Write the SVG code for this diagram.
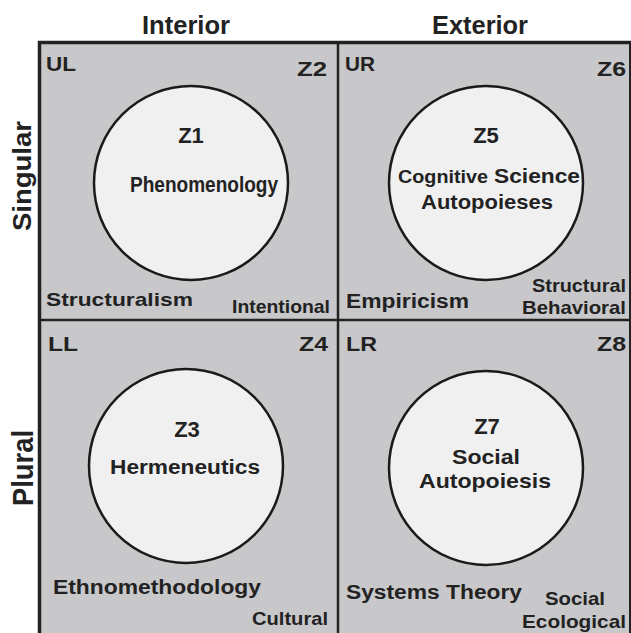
<svg xmlns="http://www.w3.org/2000/svg" width="631" height="633" viewBox="0 0 631 633">
<style>
text{font-family:"Liberation Sans",Arial,sans-serif;font-weight:bold;fill:#222}
.h{font-size:25px}
.c{font-size:21px}
.m{font-size:21px;text-anchor:middle}
.s{font-size:19px}
.circ{fill:#f0f0f1;stroke:#1a1a1a;stroke-width:2.5}
.line{stroke:#222;fill:none}
</style>
<rect width="631" height="633" fill="#ffffff"/>
<g id="headers">
<text class="h" x="186" y="34" text-anchor="middle" textLength="88" lengthAdjust="spacingAndGlyphs">Interior</text>
<text class="h" x="480" y="34" text-anchor="middle" textLength="96" lengthAdjust="spacingAndGlyphs">Exterior</text>
<text class="h" transform="translate(31,176) rotate(-90)" text-anchor="middle" textLength="110" lengthAdjust="spacingAndGlyphs">Singular</text>
<text transform="translate(33,468) rotate(-90)" text-anchor="middle" style="font-size:29px" textLength="76" lengthAdjust="spacingAndGlyphs">Plural</text>
</g>
<g id="quadrants">
<rect x="40" y="44" width="600" height="600" fill="#c8c8ca"/>
</g>
<g id="connectors">
<path class="line" d="M39.5,640 V42.5 H640" stroke-width="3.5"/>
<path class="line" d="M630,44 V633" stroke-width="2"/>
<path class="line" d="M338,44 V633" stroke-width="2.5"/>
<path class="line" d="M40,320 H631" stroke-width="2.5"/>
</g>
<g id="UL">
<text class="c" x="46" y="71" textLength="30" lengthAdjust="spacingAndGlyphs">UL</text>
<text class="c" x="297" y="76" textLength="30" lengthAdjust="spacingAndGlyphs">Z2</text>
<text class="s" x="46" y="306" textLength="147" lengthAdjust="spacingAndGlyphs">Structuralism</text>
<text class="s" x="232" y="313" textLength="98" lengthAdjust="spacingAndGlyphs">Intentional</text>
</g>
<g id="Z1">
<circle class="circ" cx="191" cy="183" r="97"/>
<text class="m" x="191" y="143" style="font-size:22px">Z1</text>
<text class="m" x="204" y="192" style="font-size:22px" textLength="148" lengthAdjust="spacingAndGlyphs">Phenomenology</text>
</g>
<g id="UR">
<text class="c" x="345" y="71" textLength="30" lengthAdjust="spacingAndGlyphs">UR</text>
<text class="c" x="597" y="76" textLength="29" lengthAdjust="spacingAndGlyphs">Z6</text>
<text class="s" x="346" y="308" style="font-size:20px" textLength="123" lengthAdjust="spacingAndGlyphs">Empiricism</text>
<text class="s" x="532" y="292" textLength="94" lengthAdjust="spacingAndGlyphs">Structural</text>
<text class="s" x="522" y="314" textLength="104" lengthAdjust="spacingAndGlyphs">Behavioral</text>
</g>
<g id="Z5">
<circle class="circ" cx="486" cy="183" r="97"/>
<text class="m" x="486" y="143" style="font-size:22px">Z5</text>
<text x="398" y="183" style="font-size:18px" textLength="90" lengthAdjust="spacingAndGlyphs">Cognitive</text>
<text x="494" y="183" style="font-size:21px" textLength="86" lengthAdjust="spacingAndGlyphs">Science</text>
<text x="421" y="209" style="font-size:21px" textLength="132" lengthAdjust="spacingAndGlyphs">Autopoieses</text>
</g>
<g id="LL">
<text class="c" x="48" y="351" textLength="30" lengthAdjust="spacingAndGlyphs">LL</text>
<text class="c" x="299" y="351" textLength="29" lengthAdjust="spacingAndGlyphs">Z4</text>
<text class="s" x="53" y="594" style="font-size:20px" textLength="208" lengthAdjust="spacingAndGlyphs">Ethnomethodology</text>
<text class="s" x="252" y="625" textLength="76" lengthAdjust="spacingAndGlyphs">Cultural</text>
</g>
<g id="Z3">
<circle class="circ" cx="186" cy="466" r="97"/>
<text class="m" x="187" y="437" style="font-size:22px">Z3</text>
<text x="110" y="474" style="font-size:20px" textLength="150" lengthAdjust="spacingAndGlyphs">Hermeneutics</text>
</g>
<g id="LR">
<text class="c" x="346" y="351" textLength="31" lengthAdjust="spacingAndGlyphs">LR</text>
<text class="c" x="597" y="351" textLength="29" lengthAdjust="spacingAndGlyphs">Z8</text>
<text class="s" x="346" y="599" style="font-size:20px" textLength="176" lengthAdjust="spacingAndGlyphs">Systems Theory</text>
<text class="s" x="545" y="605" textLength="60" lengthAdjust="spacingAndGlyphs">Social</text>
<text class="s" x="522" y="628" textLength="104" lengthAdjust="spacingAndGlyphs">Ecological</text>
</g>
<g id="Z7">
<circle class="circ" cx="486" cy="468" r="97"/>
<text class="m" x="487" y="434" style="font-size:22px">Z7</text>
<text x="452" y="464" style="font-size:21px" textLength="68" lengthAdjust="spacingAndGlyphs">Social</text>
<text x="419" y="488" style="font-size:21px" textLength="132" lengthAdjust="spacingAndGlyphs">Autopoiesis</text>
</g>
</svg>
